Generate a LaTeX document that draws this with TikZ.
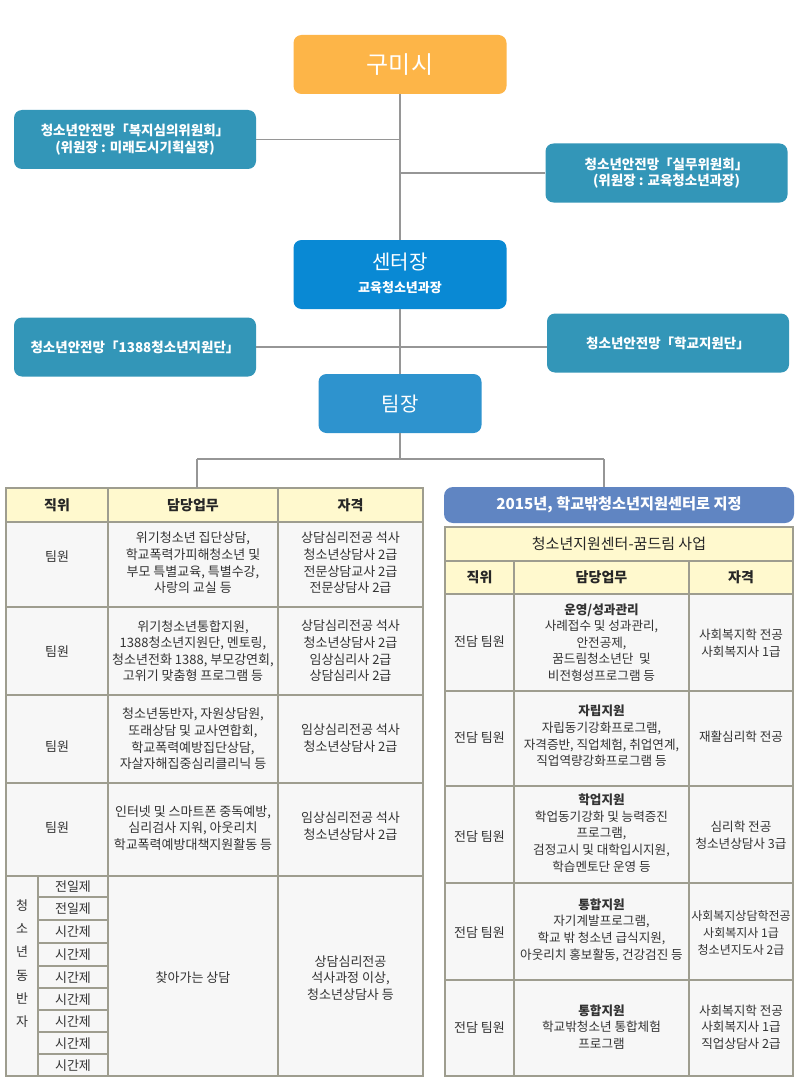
\documentclass[tikz,border=0pt]{standalone}
\usepackage{fontspec}
\setmainfont{Noto Sans CJK KR}
\usetikzlibrary{calc}
\definecolor{gumicol}{RGB}{253,181,72}
\definecolor{tealbox}{RGB}{51,150,184}
\definecolor{ctrcol}{RGB}{9,137,212}
\definecolor{teamcol}{RGB}{46,147,206}
\definecolor{bluehdr}{RGB}{96,133,194}
\definecolor{linecol}{RGB}{150,150,150}
\definecolor{gridcol}{RGB}{158,157,143}
\definecolor{hdrfill}{RGB}{255,249,206}
\definecolor{cellfill}{RGB}{247,247,247}
\definecolor{txt}{RGB}{51,51,51}
\begin{document}
\begin{tikzpicture}[x=1pt,y=-1pt,
  box/.style={rounded corners=8pt, text=white, align=center, inner sep=0pt},
  sidebox/.style={box, fill=tealbox, minimum width=242pt, minimum height=59pt, font=\bfseries\fontsize{13.5}{16.5}\selectfont},
  conn/.style={draw=linecol, line width=1.1pt},
  tgrid/.style={draw=gridcol, line width=2pt},
  tcell/.style={text=txt, align=center, inner sep=0pt, font=\fontsize{13}{16.6}\selectfont},
  rcell/.style={text=txt, align=center, inner sep=0pt, font=\fontsize{12.6}{16.6}\selectfont},
  hcell/.style={text=black!85, align=center, inner sep=0pt, font=\bfseries\fontsize{14}{17}\selectfont},
  subcell/.style={text=txt, align=center, inner sep=0pt, font=\fontsize{13}{16}\selectfont},
]
\fill[white] (0,0) rectangle (800,1078);
\useasboundingbox (0,0) rectangle (800,1078);

% ---------- top boxes ----------
\node[box, fill=gumicol, minimum width=213pt, minimum height=59pt, font=\fontsize{24}{28}\selectfont] (gumi) at (400,64.5) {구미시};
\node[sidebox] (bokji) at (135,139.5) {청소년안전망「복지심의위원회」\\(위원장 : 미래도시기획실장)};
\node[sidebox] (silmu) at (666.5,173) {청소년안전망「실무위원회」\\(위원장 : 교육청소년과장)};
\node[box, fill=ctrcol, minimum width=213pt, minimum height=69pt] (ctr) at (400,274.5) {};
\node[text=white, inner sep=0pt, font=\fontsize{20}{24}\selectfont] (ctrt) at (400,262) {센터장};
\node[text=white, inner sep=0pt, font=\bfseries\fontsize{13}{16}\selectfont] (ctrs) at (400,287.5) {교육청소년과장};
\node[sidebox] (y1388) at (135,347) {청소년안전망「1388청소년지원단」};
\node[sidebox] (school) at (668,343) {청소년안전망「학교지원단」};
\node[box, fill=teamcol, minimum width=163pt, minimum height=59pt, font=\fontsize{20}{24}\selectfont] (team) at (400,403.5) {팀장};

% ---------- connectors ----------
\coordinate (hub) at (400,459);
\coordinate (jl) at (197,459);
\coordinate (jr) at (604,459);
\draw[conn] (gumi.south) -- (ctr.north);
\draw[conn] (bokji.east) -- (bokji.east -| gumi.south);
\draw[conn] (silmu.west) -- (silmu.west -| gumi.south);
\draw[conn] (ctr.south) -- (team.north);
\draw[conn] (y1388.east) -- (y1388.east -| school.west);
\draw[conn] (team.south) -- (hub);
\draw[conn] (jl) -- (jr);

% ---------- left table ----------
\node[inner sep=0pt, minimum width=417pt, minimum height=588pt, anchor=north west] (ltab) at (6,488) {};
\fill[hdrfill] (6,488) rectangle (423,522);
\fill[cellfill] (6,522) rectangle (423,1076);
\foreach \yy in {522,607,695,783,876} \draw[tgrid] (6,\yy) -- (423,\yy);
\draw[tgrid] (108,488) -- (108,1076);
\draw[tgrid] (278,488) -- (278,1076);
\draw[tgrid] (38,876) -- (38,1076);
\foreach \yy in {897,920,943,966,988,1010,1032,1054} \draw[tgrid] (38,\yy) -- (108,\yy);
\draw[tgrid] (6,488) rectangle (423,1076);
\draw[conn] (jl) -- (jl |- ltab.north);

\node[hcell] (lh1) at (57,505) {직위};
\node[hcell] (lh2) at (193,505) {담당업무};
\node[hcell] (lh3) at (350.5,505) {자격};

\node[subcell] (lp1) at (57,557) {팀원};
\node[tcell] (ld1) at (193,563) {위기청소년 집단상담,\\학교폭력가피해청소년 및\\부모 특별교육, 특별수강,\\사랑의 교실 등};
\node[tcell] (lq1) at (350.5,563) {상담심리전공 석사\\청소년상담사 2급\\전문상담교사 2급\\전문상담사 2급};

\node[subcell] (lp2) at (57,652) {팀원};
\node[tcell] (ld2) at (193,651) {위기청소년통합지원,\\1388청소년지원단, 멘토링,\\청소년전화 1388, 부모강연회,\\고위기 맞춤형 프로그램 등};
\node[tcell] (lq2) at (350.5,651) {상담심리전공 석사\\청소년상담사 2급\\임상심리사 2급\\상담심리사 2급};

\node[subcell] (lp3) at (57,747) {팀원};
\node[tcell] (ld3) at (193,739) {청소년동반자, 자원상담원,\\또래상담 및 교사연합회,\\학교폭력예방집단상담,\\자살자해집중심리클리닉 등};
\node[tcell] (lq3) at (350.5,738) {임상심리전공 석사\\청소년상담사 2급};

\node[subcell] (lp4) at (57,828) {팀원};
\node[tcell] (ld4) at (193,828) {인터넷 및 스마트폰 중독예방,\\심리검사 지워, 아웃리치\\학교폭력예방대책지원활동 등};
\node[tcell] (lq4) at (350.5,826) {임상심리전공 석사\\청소년상담사 2급};

\node[subcell, font=\fontsize{13}{23.3}\selectfont] (lp5) at (22,963.5) {청\\소\\년\\동\\반\\자};
\node[subcell] (ls1) at (73,886.5) {전일제};
\node[subcell] (ls2) at (73,909) {전일제};
\node[subcell] (ls3) at (73,932) {시간제};
\node[subcell] (ls4) at (73,955) {시간제};
\node[subcell] (ls5) at (73,977.5) {시간제};
\node[subcell] (ls6) at (73,999.5) {시간제};
\node[subcell] (ls7) at (73,1021.5) {시간제};
\node[subcell] (ls8) at (73,1043.5) {시간제};
\node[subcell] (ls9) at (73,1066) {시간제};
\node[tcell] (ld5) at (193,978) {찾아가는 상담};
\node[tcell] (lq5) at (350.5,978) {상담심리전공\\석사과정 이상,\\청소년상담사 등};

% ---------- right side ----------
\node[box, rounded corners=9pt, fill=bluehdr, minimum width=350pt, minimum height=36pt, font=\bfseries\fontsize{15.2}{17}\selectfont] (n2015) at (619,505) {2015년, 학교밖청소년지원센터로 지정};
\draw[conn] (jr) -- (jr |- n2015.north);

\fill[hdrfill] (445,527) rectangle (793,594);
\fill[cellfill] (445,594) rectangle (793,1076);
\foreach \yy in {561,594,691,786,883,980} \draw[tgrid] (445,\yy) -- (793,\yy);
\draw[tgrid] (514,561) -- (514,1076);
\draw[tgrid] (689,561) -- (689,1076);
\draw[tgrid] (445,527) rectangle (793,1076);

\node[text=black!85, inner sep=0pt, font=\fontsize{15}{17}\selectfont] (rtitle) at (619,544) {청소년지원센터-꿈드림 사업};
\node[hcell] (rh1) at (479.5,577.5) {직위};
\node[hcell] (rh2) at (601.5,577.5) {담당업무};
\node[hcell] (rh3) at (741,577.5) {자격};

\node[subcell] (rp1) at (479.5,642) {전담 팀원};
\node[rcell] (rd1) at (601.5,642.5) {\textbf{운영/성과관리}\\사례접수 및 성과관리,\\안전공제,\\꿈드림청소년단 \ 및\\비전형성프로그램 등};
\node[rcell] (rq1) at (741,643) {사회복지학 전공\\사회복지사 1급};

\node[subcell] (rp2) at (479.5,738) {전담 팀원};
\node[rcell] (rd2) at (601.5,736) {\textbf{자립지원}\\자립동기강화프로그램,\\자격증반, 직업체험, 취업연계,\\직업역량강화프로그램 등};
\node[rcell] (rq2) at (741,737) {재활심리학 전공};

\node[subcell] (rp3) at (479.5,837) {전담 팀원};
\node[rcell] (rd3) at (601.5,833) {\textbf{학업지원}\\학업동기강화 및 능력증진\\프로그램,\\검정고시 및 대학입시지원,\\학습멘토단 운영 등};
\node[rcell] (rq3) at (741,835) {심리학 전공\\청소년상담사 3급};

\node[subcell] (rp4) at (479.5,933) {전담 팀원};
\node[rcell] (rd4) at (601.5,930) {\textbf{통합지원}\\자기계발프로그램,\\학교 밖 청소년 급식지원,\\아웃리치 홍보활동, 건강검진 등};
\node[rcell, font=\fontsize{12}{16.6}\selectfont] (rq4) at (741,933) {사회복지상담학전공\\사회복지사 1급\\청소년지도사 2급};

\node[subcell] (rp5) at (479.5,1028) {전담 팀원};
\node[rcell] (rd5) at (601.5,1027) {\textbf{통합지원}\\학교밖청소년 통합체험\\프로그램};
\node[rcell] (rq5) at (741,1027) {사회복지학 전공\\사회복지사 1급\\직업상담사 2급};
\end{tikzpicture}
\end{document}
